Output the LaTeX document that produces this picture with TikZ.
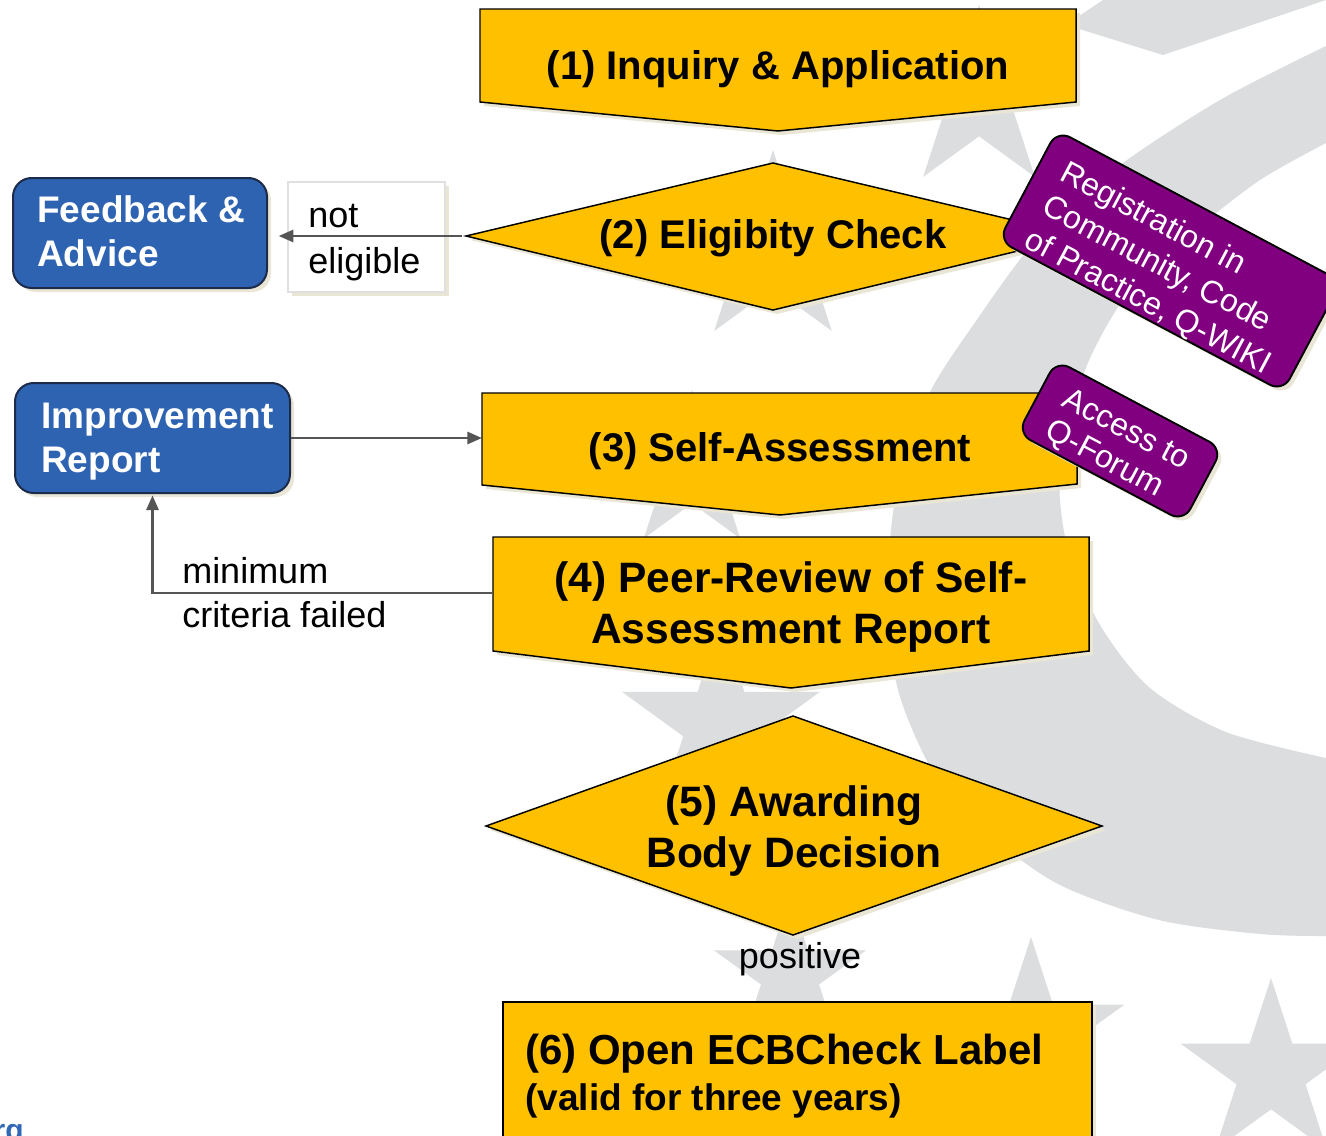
\documentclass[tikz,border=0pt]{standalone}
\usepackage{fontspec}
\setmainfont{Liberation Sans}
\usetikzlibrary{arrows.meta}
\definecolor{ygold}{HTML}{FFC000}
\definecolor{bblue}{HTML}{2E63B2}
\definecolor{bborder}{HTML}{1C2B4A}
\definecolor{purp}{HTML}{800080}
\definecolor{bggrey}{HTML}{DCDDDF}
\definecolor{arrowgrey}{HTML}{555555}
\definecolor{shadowc}{HTML}{E9E6D6}
\definecolor{linkblue}{HTML}{3167B5}
\newcommand{\bgstar}[3]{%
  \fill[bggrey,shift={(#1,#2)}] (-90:#3) -- (-54:{0.382*#3}) -- (-18:#3) -- (18:{0.382*#3}) -- (54:#3) -- (90:{0.382*#3}) -- (126:#3) -- (162:{0.382*#3}) -- (198:#3) -- (234:{0.382*#3}) -- cycle;}
\begin{document}
\begin{tikzpicture}[x=0.75pt,y=-0.75pt,
  shadowpre/.style={preaction={fill=shadowc, transform canvas={xshift=3pt,yshift=-3pt}}},
  yshape/.style={fill=ygold, draw=black, line width=1.1pt, shadowpre},
  ytxt/.style={font=\bfseries\fontsize{30}{38.25}\selectfont, align=center, inner sep=0pt},
  ytxtb/.style={font=\bfseries\fontsize{31.9}{38.25}\selectfont, align=center, inner sep=0pt},
  bluebox/.style={fill=bblue, draw=bborder, line width=1.5pt, rounded corners=14pt, inner sep=0pt, shadowpre},
  btxt/.style={font=\bfseries\fontsize{27.75}{33}\selectfont, text=white, align=left, inner sep=0pt},
  ntxt/.style={font=\fontsize{27}{34.5}\selectfont, align=left, inner sep=0pt},
  pbox/.style={fill=purp, draw=black, line width=1.4pt, rounded corners=11pt, text=white, align=left, inner sep=0pt, shadowpre},
  conn/.style={draw=arrowgrey, line width=2.1pt, -{Triangle[length=11pt,width=9pt]}}
]
\useasboundingbox (0,0) rectangle (1326,1135);
\clip (0,0) rectangle (1326,1135);
\fill[white] (0,0) rectangle (1326,1135);
% background crescent
\fill[bggrey] plot[smooth] coordinates {(1326,46) (1220,100) (1116,168) (1040,235) (976,321) (926,400) (895,500) (888,600) (898,690) (935,775) (990,835) (1060,885) (1159,920) (1260,934) (1326,936)} -- (1340,936) -- (1340,758) -- plot[smooth] coordinates {(1326,758) (1226,732) (1150,688) (1100,625) (1068,550) (1060,470) (1085,370) (1130,290) (1193,232) (1260,180) (1326,143)} -- (1340,143) -- (1340,46) -- cycle;
\fill[bggrey] (1076,18) -- (1103,0) -- (1326,0) -- (1163,55) -- (1076,28) -- cycle;
% background stars
\bgstar{979}{100}{95}
\bgstar{773}{250}{100}
\bgstar{692}{472}{82}
\bgstar{721}{724}{104}
\bgstar{790}{975}{80}
\bgstar{1031}{1035}{98}
\bgstar{1271}{1073}{95}
% yellow process shapes
\filldraw[yshape] (480,9) -- (1076,9) -- (1076,102) -- (778,131) -- (480,102) -- cycle;
\filldraw[yshape] (466,236) -- (773,163) -- (1080,236) -- (773,310) -- cycle;
\filldraw[yshape] (482,393) -- (1077,393) -- (1077,484) -- (780,515) -- (482,485) -- cycle;
\filldraw[yshape] (493,537) -- (1089,537) -- (1089,651) -- (791,688) -- (493,651) -- cycle;
\filldraw[yshape] (486,826) -- (793,716) -- (1102,826) -- (793,935) -- cycle;
\filldraw[yshape] (503,1002) -- (1092,1002) -- (1092,1150) -- (503,1150) -- cycle;
\coordinate (d2L) at (466,236);
\coordinate (b3W) at (482,438);
\coordinate (b4W) at (493,593);
\node[ytxt] (t1) at (778,69) {(1) Inquiry \& Application};
\node[ytxt] (t2) at (773,238) {(2) Eligibity Check};
\node[ytxt] (t3) at (780,451) {(3) Self-Assessment};
\node[ytxtb] (t4) at (791,607) {(4) Peer-Review of Self-\\Assessment Report};
\node[ytxtb] (t5) at (794,831) {(5) Awarding\\Body Decision};
\node[ytxt, anchor=west, align=left, font=\bfseries\fontsize{31.5}{34.5}\selectfont] (t6) at (525,1076) {(6) Open ECBCheck Label\\{\fontsize{27.75}{34.5}\selectfont (valid for three years)}};
% purple notes
\node[pbox, rotate=-28, minimum width=241.5pt, minimum height=84pt, font=\fontsize{24}{28.5}\selectfont] (reg) at (1170,261) {\rule{0pt}{32pt}Registration in\\Community, Code\\of Practice, Q-WIKI};
\node[pbox, rotate=-28, minimum width=141pt, minimum height=62pt, font=\fontsize{24}{27}\selectfont] (acc) at (1120,441) {\rule{0pt}{26pt}Access to\\Q-Forum};
% blue boxes
\node[bluebox, minimum width=190.5pt, minimum height=82.5pt] (fb) at (140,233) {};
\node[btxt, anchor=west] (fbt) at (37,231.5) {Feedback \&\\Advice};
\node[bluebox, minimum width=206.25pt, minimum height=82.5pt] (ir) at (152.5,438) {};
\node[btxt, anchor=west] (irt) at (41,441.5) {Improvement\\Report};
% not eligible label box
\node[draw=black!12, fill=white, line width=0.8pt, minimum width=117.75pt, minimum height=82.5pt, inner sep=0pt, shadowpre] (ne) at (366.5,237) {};
\node[ntxt, anchor=west] (net) at (308,243) {not\\eligible};
% connectors
\draw[conn, shorten >=8pt] ([xshift=-3pt]d2L) -- (d2L -| fb.east);
\draw[conn] (ir.east) -- (b3W);
\draw[conn, shorten >=1pt] (b4W) -| (ir.south);
\node[ntxt, anchor=west, font=\fontsize{27}{33}\selectfont] (mct) at (182,593) {minimum\\criteria failed};
\node[ntxt] (pos) at (800,959) {positive};
\node[font=\bfseries\fontsize{22.5}{22.5}\selectfont, text=linkblue, anchor=base east, inner sep=0pt] (url) at (24,1140) {rg};
\end{tikzpicture}
\end{document}
